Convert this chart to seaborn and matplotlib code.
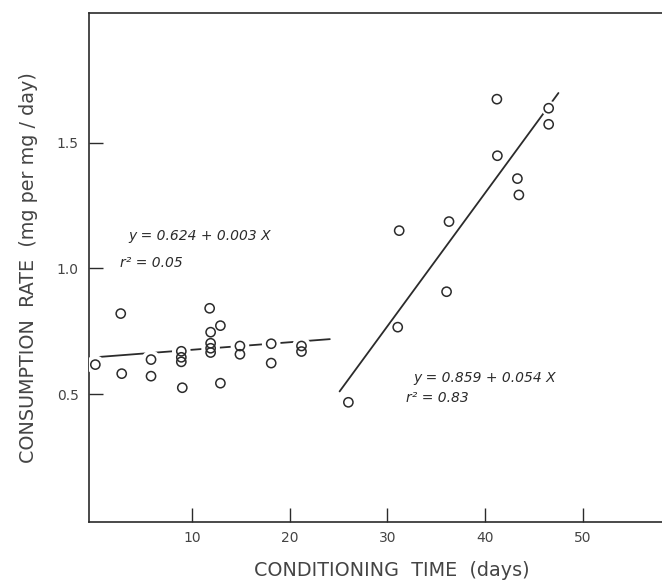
import matplotlib
matplotlib.use("Agg")
import numpy as np
import pandas as pd
import matplotlib.pyplot as plt
import seaborn as sns

# Consumption rate vs. conditioning time, early period (0-21 days)
early_days = [0.1, 2.7, 2.8, 5.8, 5.8, 8.9, 8.9, 8.9, 9.0, 11.8, 12.9, 11.9,
              11.9, 11.9, 11.9, 12.9, 14.9, 14.9, 18.1, 18.1, 21.2, 21.2]
early_rate = [0.617, 0.820, 0.581, 0.637, 0.571, 0.670, 0.646, 0.628, 0.525,
              0.841, 0.772, 0.746, 0.702, 0.682, 0.665, 0.543, 0.691, 0.658,
              0.700, 0.623, 0.691, 0.669]

# Late period (26-47 days)
late_days = [26.0, 31.05, 31.2, 36.05, 36.3, 41.2, 41.25, 43.3, 43.45, 46.5, 46.5]
late_rate = [0.467, 0.766, 1.150, 0.907, 1.186, 1.673, 1.448, 1.357, 1.292,
             1.637, 1.573]

# Regression lines as drawn: intercept, slope and x extent
early_intercept, early_slope = 0.646, 0.003
early_span = [0.45, 24.1]
late_intercept, late_slope = -0.82, 0.053
late_span = [25.1, 47.5]

early_eq = ["y = 0.624 + 0.003 X", "r² = 0.05"]
late_eq = ["y = 0.859 + 0.054 X", "r² = 0.83"]

x_ticks = [10, 20, 30, 40, 50]
y_ticks = [0.5, 1.0, 1.5]
y_tick_labels = ["0.5", "1.0", "1.5"]

sns.set_style("ticks")
plt.rcParams["font.family"] = ["DejaVu Sans"]

ink = "#2b2b2b"
text_ink = "#444444"

fig = plt.figure(figsize=(6.62, 5.80), dpi=100)
ax = fig.add_axes([88.5 / 662, 58.3 / 580, 1 - 88.5 / 662, (521.7 - 12.7) / 580])

early = pd.DataFrame({"days": early_days, "rate": early_rate})
late = pd.DataFrame({"days": late_days, "rate": late_rate})
points = pd.concat([early, late], ignore_index=True)

lines = []
for b0, b1, span in [(early_intercept, early_slope, early_span),
                     (late_intercept, late_slope, late_span)]:
    xs = np.array(span)
    lines.append(pd.DataFrame({"days": xs, "rate": b0 + b1 * xs}))

for ln in lines:
    sns.lineplot(data=ln, x="days", y="rate", ax=ax, color=ink, lw=1.3,
                 estimator=None, sort=False, zorder=2)

# white halo so the fit lines break around the circles
sns.scatterplot(data=early, x="days", y="rate", ax=ax, s=180, color="white",
                edgecolor="none", linewidth=0, zorder=3)
sns.scatterplot(data=late, x="days", y="rate", ax=ax, s=120, color="white",
                edgecolor="none", linewidth=0, zorder=3)
sns.scatterplot(data=points, x="days", y="rate", ax=ax, s=44,
                facecolor="none", edgecolor=ink, linewidth=1.1, zorder=4)

ax.set_xlim(-0.6, 58.1)
ax.set_ylim(-0.008, 2.017)
ax.set_xticks(x_ticks)
ax.set_xticklabels([str(t) for t in x_ticks])
ax.set_yticks(y_ticks)
ax.set_yticklabels(y_tick_labels)
ax.tick_params(direction="in", length=10, width=1.0, color=ink,
               labelsize=10, labelcolor=text_ink, pad=7)

for side in ["left", "bottom", "top"]:
    ax.spines[side].set_color(ink)
    ax.spines[side].set_linewidth(1.2)
ax.spines["right"].set_visible(False)

ax.set_xlabel("CONDITIONING  TIME  (days)", fontsize=13.8, color=text_ink)
ax.set_ylabel("CONSUMPTION  RATE  (mg per mg / day)", fontsize=13.8, color=text_ink)
ax.xaxis.label.set_va("center")
ax.yaxis.label.set_va("center")
ax.xaxis.set_label_coords((392 - 88.5) / 573.5, -(570 - 521.7) / 509)
ax.yaxis.set_label_coords(-(88.5 - 29) / 573.5, 0.5)

eq_style = dict(fontsize=10, style="italic", color=ink, va="center", ha="left")
ax.text(3.5, 1.13, early_eq[0], **eq_style)
ax.text(2.6, 1.02, early_eq[1], **eq_style)
ax.text(32.6, 0.565, late_eq[0], **eq_style)
ax.text(31.9, 0.485, late_eq[1], **eq_style)

fig.savefig("out.png", dpi=100)
